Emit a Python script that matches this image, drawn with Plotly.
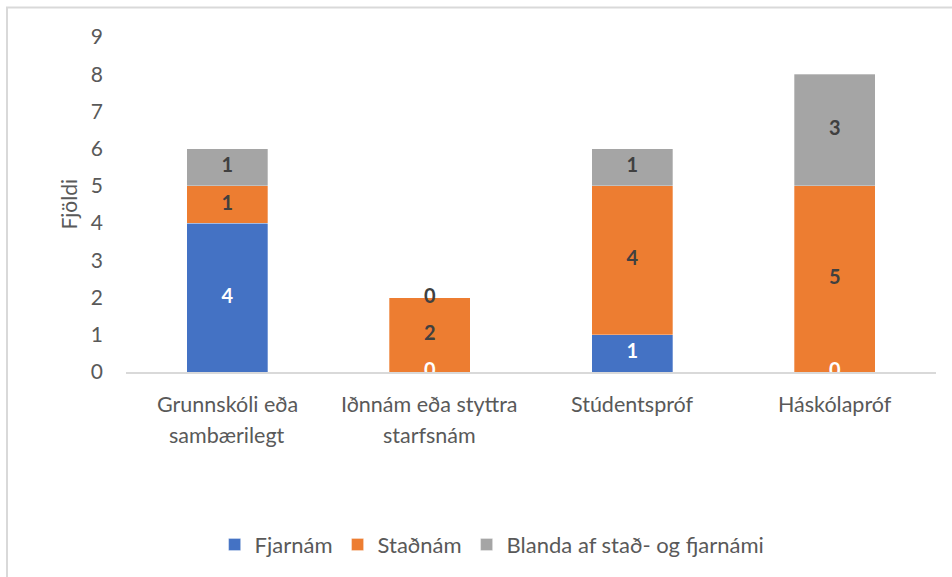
import plotly.graph_objects as go

categories = ["Grunnskóli eða sambærilegt", "Iðnnám eða styttra starfsnám", "Stúdentspróf", "Háskólapróf"]
cat_line1 = ["Grunnskóli eða", "Iðnnám eða styttra", "Stúdentspróf", "Háskólapróf"]
cat_line2 = ["sambærilegt", "starfsnám", "", ""]
series_names = ["Fjarnám", "Staðnám", "Blanda af stað- og fjarnámi"]
fjarnam = [4, 0, 1, 0]
stadnam = [1, 2, 4, 5]
blanda = [1, 0, 1, 3]
y_ticks = [0, 1, 2, 3, 4, 5, 6, 7, 8, 9]

colors = ["#4472C4", "#ED7D31", "#A5A5A5"]
label_colors = ["#FFFFFF", "#404040", "#404040"]
FONT = "Lato, 'Liberation Sans', sans-serif"
TXT = "#595959"

fig = go.Figure()
series = [fjarnam, stadnam, blanda]
base = [0] * len(categories)
for name, vals, col, lcol in zip(series_names, series, colors, label_colors):
    fig.add_trace(go.Bar(
        x=categories, y=vals, name=name,
        marker=dict(color=col, line=dict(color="rgba(255,255,255,0.6)", width=0.5)),
        width=0.4,
    ))
    centers = [b + v / 2 for b, v in zip(base, vals)]
    fig.add_trace(go.Scatter(
        x=categories, y=centers, mode="text", text=[str(v) for v in vals],
        textposition="middle center", cliponaxis=True, showlegend=False,
        textfont=dict(family=FONT, size=20, color=lcol, weight="bold"),
        hoverinfo="skip",
    ))
    base = [b + v for b, v in zip(base, vals)]

annotations = []
for c, l1, l2 in zip(categories, cat_line1, cat_line2):
    annotations.append(dict(x=c, xref="x", y=0, yref="paper", text=l1, showarrow=False,
                            yanchor="middle", yshift=-32,
                            font=dict(family=FONT, size=21.5, color=TXT)))
    if l2:
        annotations.append(dict(x=c, xref="x", y=0, yref="paper", text=l2, showarrow=False,
                                yanchor="middle", yshift=-63,
                                font=dict(family=FONT, size=21.5, color=TXT)))
annotations.append(dict(x=-0.0716, xref="paper", y=0.5, yref="paper", text="Fjöldi",
                        textangle=-90, showarrow=False, xanchor="center", yanchor="middle",
                        font=dict(family=FONT, size=21, color=TXT)))

fig.update_layout(
    width=952, height=577,
    margin=dict(l=126, r=16, t=36.5, b=204),
    paper_bgcolor="white", plot_bgcolor="white",
    barmode="stack",
    font=dict(family=FONT, color=TXT, size=21),
    annotations=annotations,
    legend=dict(orientation="h", x=0.452, xanchor="center", y=-0.511, yanchor="middle",
                font=dict(family=FONT, size=22, color=TXT), itemwidth=30,
                traceorder="normal"),
    shapes=[dict(type="rect", xref="paper", yref="paper",
                 x0=-0.1469, x1=1.05, y0=-0.7, y1=1.0877,
                 line=dict(color="#D9D9D9", width=2), fillcolor="rgba(0,0,0,0)",
                 layer="below")],
)
fig.update_xaxes(showticklabels=False, showgrid=False, zeroline=False,
                 showline=True, linecolor="#D9D9D9", linewidth=2, ticks="")
fig.update_yaxes(range=[0, 9], tickvals=y_ticks, showgrid=False, zeroline=False,
                 showline=False, ticklabelstandoff=22,
                 tickfont=dict(family=FONT, size=21, color=TXT))

fig.write_html("out.html", config={"displayModeBar": False},
               post_script="document.body.style.margin='0';")
